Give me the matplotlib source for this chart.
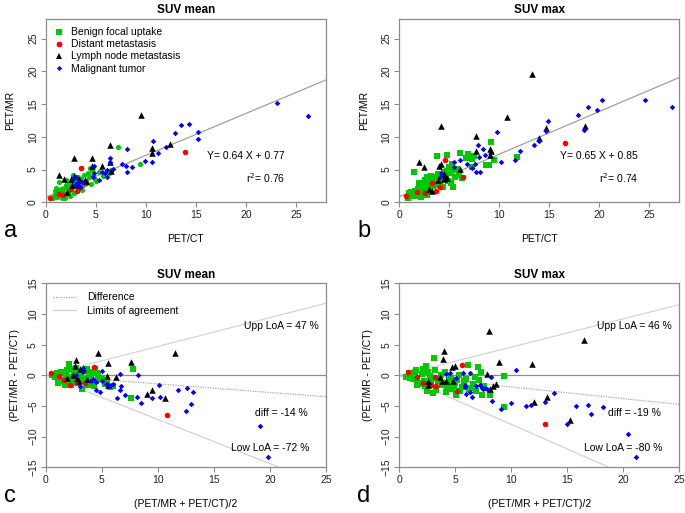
import matplotlib
matplotlib.use("Agg")
import matplotlib.pyplot as plt
from matplotlib.lines import Line2D

plt.rcParams["font.family"] = ["Liberation Sans", "DejaVu Sans"]

# ─── Renkler ─────────────────────────────────────────────────────────────────
GREEN = "#00c800"
RED = "#ff0000"
BLACK = "#000000"
BLUE = "#0000ff"
FRAME = "#8c8c8c"

# ─── Panel a: SUV mean, PET/CT (x) vs PET/MR (y) ─────────────────────────────
gx_a = [7.2, 9.4, 4.4, 4.6, 4.2, 4.9, 5.3, 5.7, 6.5, 6.3, 3.8, 3.5, 3.2, 2.9, 2.6, 2.3, 2.0, 1.8,
        1.5, 1.2, 1.0, 0.8, 0.7, 1.1, 1.4, 1.7, 2.0, 2.3, 2.6, 3.0, 3.4, 3.7, 4.0, 4.3, 4.7, 5.0,
        2.8, 2.4, 1.9, 3.2, 3.6, 2.2, 1.6, 1.3, 2.0, 2.7, 3.0, 4.5, 1.0, 0.9]
gy_a = [8.4, 5.8, 5.3, 4.9, 4.4, 3.6, 4.6, 4.0, 4.9, 4.4, 4.1, 3.6, 3.9, 3.5, 3.2, 2.8, 2.6, 2.2,
        2.0, 1.7, 1.4, 1.0, 0.6, 0.8, 1.2, 1.5, 1.2, 1.8, 2.3, 2.7, 3.0, 2.6, 3.2, 3.8, 4.2, 3.2,
        1.4, 0.9, 0.7, 2.2, 1.9, 2.2, 0.6, 3.1, 3.4, 4.2, 3.1, 2.8, 2.2, 1.8]
rx_a = [13.9, 3.5, 0.4, 1.3, 1.75, 2.5, 3.1, 4.0, 3.4]
ry_a = [7.7, 5.2, 0.7, 1.2, 1.1, 2.0, 1.8, 3.0, 2.4]
kx_a = [9.5, 6.4, 10.6, 10.6, 12.4, 2.8, 4.6, 4.6, 5.6, 6.4, 6.5, 1.3, 1.8, 2.5, 2.8, 3.9, 2.6,
        3.2, 2.1, 3.3, 4.0]
ky_a = [13.4, 8.7, 8.3, 7.5, 8.9, 6.7, 6.7, 5.5, 5.5, 6.2, 4.8, 4.2, 3.5, 3.6, 4.0, 3.4, 2.7,
        2.7, 1.6, 3.5, 3.3]
bx_a = [23.1, 26.2, 13.5, 14.3, 12.9, 15.2, 15.2, 10.7, 12.0, 11.2, 8.1, 9.9, 10.6, 7.6, 8.0,
        8.6, 8.1, 6.4, 6.4, 6.7, 6.1, 6.1, 5.6, 5.9, 5.3, 4.8, 4.7, 4.8, 3.3, 3.1, 2.9, 3.6, 3.4,
        2.7, 3.0]
by_a = [15.1, 13.2, 11.8, 11.9, 10.6, 10.7, 9.6, 9.3, 8.5, 7.6, 8.2, 6.3, 6.2, 5.8, 5.5, 5.4,
        4.6, 6.7, 6.1, 5.1, 4.9, 3.8, 4.7, 4.5, 3.4, 5.5, 3.9, 4.5, 3.1, 2.9, 2.6, 3.1, 2.4, 3.5,
        3.8]

# ─── Panel b: SUV max ────────────────────────────────────────────────────────
gx_b = [9.2, 11.8, 8.7, 9.0, 9.5, 6.9, 7.5, 6.1, 6.7, 7.3, 4.8, 3.8, 5.3, 5.0, 5.8, 7.3, 1.5,
        2.8, 0.9, 1.1, 1.3, 1.6, 1.9, 2.1, 2.3, 2.5, 2.7, 2.9, 3.1, 3.3, 3.5, 3.7, 3.9, 4.1, 4.3,
        4.5, 4.7, 4.9, 5.1, 5.3, 5.6, 6.0, 6.3, 1.2, 1.7, 2.0, 2.4, 2.6, 3.0, 3.4, 3.6, 4.0, 4.4,
        4.8, 5.2, 1.0, 2.2, 2.8, 3.2, 5.4]
gy_b = [9.2, 6.9, 5.7, 5.7, 6.5, 7.4, 7.1, 7.6, 6.7, 6.6, 7.2, 7.0, 5.9, 5.4, 5.1, 5.4, 4.6,
        3.9, 0.7, 1.2, 1.0, 1.8, 2.1, 1.5, 2.6, 2.2, 3.0, 2.4, 3.5, 2.8, 3.2, 3.9, 4.3, 3.1, 3.6,
        4.6, 4.1, 3.3, 4.4, 5.0, 3.8, 4.2, 3.7, 1.6, 0.9, 2.9, 1.3, 3.4, 1.9, 2.5, 3.6, 2.7, 2.4,
        4.8, 3.0, 1.4, 0.8, 1.1, 4.0, 2.4]
rx_b = [16.6, 4.6, 6.4, 0.65, 1.8, 2.6, 3.3, 3.7, 4.1]
ry_b = [9.0, 6.5, 3.9, 1.0, 1.5, 1.4, 3.0, 1.7, 2.3]
kx_b = [13.3, 4.2, 10.8, 7.7, 14.7, 14.0, 18.6, 9.1, 9.1, 7.7, 9.2, 2.0, 2.5, 4.0, 4.2, 6.1,
        4.5, 4.8, 4.5, 4.6, 3.9, 3.0, 3.3]
ky_b = [19.6, 11.7, 13.0, 10.1, 11.3, 9.8, 11.7, 8.1, 7.3, 7.9, 7.9, 6.1, 5.4, 5.6, 5.9, 5.1,
        4.3, 3.7, 3.5, 3.9, 3.4, 2.1, 1.8]
bx_b = [24.6, 27.3, 20.3, 19.8, 18.9, 17.9, 14.9, 9.8, 14.7, 18.5, 14.0, 13.5, 12.1, 11.6,
        10.2, 7.9, 8.4, 8.6, 8.0, 7.6, 7.7, 8.1, 6.8, 6.1, 5.5, 5.5, 4.2, 4.1, 7.3, 14.0]
by_b = [15.7, 14.5, 15.7, 14.1, 14.5, 13.3, 12.4, 10.8, 10.9, 11.0, 9.3, 8.8, 7.9, 6.4, 6.2,
        8.7, 8.2, 7.2, 6.9, 5.9, 4.6, 4.6, 5.9, 6.4, 6.2, 5.4, 4.4, 3.9, 5.3, 9.5]

# ─── Panel c: Bland-Altman SUV mean ──────────────────────────────────────────
gx_c = [7.8, 7.6, 5.7, 3.2, 2.1, 4.4, 4.7, 0.8, 1.0, 1.2, 1.4, 1.6, 1.8, 2.0, 2.2, 2.4, 2.6,
        2.8, 3.0, 3.4, 3.6, 3.8, 4.0, 4.2, 4.5, 5.0, 5.3, 1.1, 1.5, 1.9, 2.3, 2.7, 3.1, 3.5, 3.9,
        4.3, 4.8, 5.5, 0.6, 1.3, 1.7, 2.5, 2.9, 3.3, 4.1, 4.6, 6.0, 2.0, 3.7, 1.0]
gy_c = [1.1, -3.7, -1.9, -2.3, 1.8, 1.0, 0.0, -0.2, 0.4, -0.5, 0.6, -1.0, 0.2, -0.3, 1.0, -0.8,
        0.5, -1.3, 0.3, -0.6, 0.8, -1.6, -0.2, 0.5, -1.0, -0.4, -1.4, -1.2, -0.7, 0.9, -1.5, 1.2,
        -0.1, -1.0, 0.0, -1.8, -0.6, -1.2, 0.1, 0.3, -1.6, 0.0, -0.3, 0.7, -0.9, 0.4, -1.8, -1.1,
        1.0, 0.0]
rx_c = [0.5, 4.3, 10.8, 1.2, 2.2, 3.5, 2.8, 1.6]
ry_c = [0.3, 1.4, -6.4, -0.1, -1.6, -1.2, -1.1, -0.8]
kx_c = [11.5, 4.7, 2.7, 2.6, 3.1, 3.3, 5.6, 7.6, 6.3, 5.5, 2.4, 1.9, 2.8, 3.0, 3.7, 5.6, 9.0,
        9.5, 10.6]
ky_c = [3.7, 3.6, 2.5, 1.5, 1.1, 1.2, 2.0, 2.2, -0.2, -0.1, 0.1, -0.4, -0.5, -0.9, -0.6, -1.6,
        -3.1, -2.4, -3.7]
bx_c = [19.8, 19.1, 13.1, 12.6, 11.8, 13.0, 12.5, 10.1, 10.2, 9.5, 8.5, 8.1, 8.2, 6.6, 7.1,
        6.7, 6.4, 6.6, 6.0, 5.7, 5.4, 4.8, 5.0, 5.0, 4.5, 4.5, 4.2, 3.3, 3.3, 2.7, 3.1, 4.0]
by_c = [-13.3, -8.3, -2.7, -2.1, -2.4, -4.7, -5.8, -1.5, -3.6, -3.7, -4.5, -3.6, 0.1, 0.2, -3.2,
        -1.7, -3.7, -2.4, -1.4, -1.7, -1.4, -2.7, -1.0, 0.65, -1.1, -2.4, -0.6, 1.2, 0.5, 0.1,
        -1.7, -0.9]

# ─── Panel d: Bland-Altman SUV max ───────────────────────────────────────────
gx_d = [3.1, 2.4, 6.1, 7.0, 9.4, 9.4, 7.4, 8.1, 5.1, 7.3, 2.5, 0.6, 0.9, 1.2, 1.5, 1.8, 2.0,
        2.3, 2.6, 2.9, 3.2, 3.5, 3.8, 4.1, 4.4, 4.7, 5.0, 5.3, 5.6, 6.0, 6.4, 6.8, 1.0, 1.4, 1.7,
        2.1, 2.8, 3.3, 3.7, 4.0, 4.3, 4.6, 4.9, 5.4, 5.8, 6.2, 6.6, 7.1, 2.2, 3.6, 4.5, 5.2, 3.0,
        1.6, 2.7, 4.2, 7.6, 6.9]
gy_d = [2.9, 1.5, 1.7, 1.35, -0.1, -5.1, -3.2, -3.2, -3.2, 0.55, -2.5, -0.2, 0.3, -0.6, 0.8,
        -1.2, 0.2, -1.8, 0.6, -0.4, 0.9, -1.0, -1.6, 0.5, -0.8, -2.2, -1.3, 0.1, -1.9, -0.6, -2.0,
        -0.2, -0.5, 0.5, -1.4, 1.0, -1.1, -2.4, 0.0, -1.2, -2.0, -0.5, -1.7, -2.6, -1.0, -2.3,
        -1.4, -0.8, -0.9, -0.6, -1.5, -0.7, -2.9, -1.6, -0.1, -2.7, -1.8, -2.6]
rx_d = [0.8, 1.6, 2.1, 2.8, 3.2, 3.3, 5.6, 5.2, 13.0]
ry_d = [0.5, -0.3, -1.2, -1.5, -0.3, -1.8, 1.7, -2.6, -8.0]
kx_d = [8.0, 16.5, 8.9, 11.9, 4.0, 3.9, 5.0, 4.7, 7.8, 12.0, 13.2, 15.3, 8.6, 8.4, 8.1, 4.8,
        4.2, 2.6, 2.6, 3.6, 3.8]
ky_d = [7.2, 5.8, 2.2, 1.9, 4.0, 2.7, 1.5, 1.4, 0.2, -4.4, -3.6, -7.3, -1.35, -1.7, -2.3, -0.9,
        -1.0, -1.0, -1.5, -0.3, -1.0]
bx_d = [10.4, 8.2, 7.5, 7.8, 13.8, 13.0, 8.3, 10.0, 9.1, 11.3, 11.8, 15.8, 16.9, 18.2, 17.1,
        15.0, 20.4, 21.2, 5.7, 6.3, 4.2, 4.5, 5.1, 5.9, 5.9, 6.3, 6.5, 6.0, 6.9, 7.4, 7.7, 7.2]
by_d = [0.8, -0.3, -2.2, -2.2, -2.9, -4.3, -4.2, -4.5, -5.5, -5.0, -4.9, -5.0, -4.8, -5.1, -6.3,
        -7.9, -9.5, -13.3, 0.4, 0.3, 0.2, 0.3, -0.4, -1.5, -1.9, -2.7, -3.5, -3.0, -1.8, -2.0,
        -2.0, -1.6]

# Regresyon ve Bland-Altman parametreleri
REG_A = (0.64, 0.77, 0.76)
REG_B = (0.65, 0.85, 0.74)
BA_C = (47, -14, -72)
BA_D = (46, -19, -80)

W, H = 685, 513
fig = plt.figure(figsize=(W / 100, H / 100), dpi=100)


def px_axes(left, top, right, bottom):
    return fig.add_axes([left / W, 1 - bottom / H, (right - left) / W, (bottom - top) / H])


def style(ax):
    for sp in ax.spines.values():
        sp.set_color(FRAME)
        sp.set_linewidth(0.9)
    ax.tick_params(direction="out", length=3.5, width=0.8, color=FRAME,
                   labelsize=7.5, labelcolor="#222222", pad=2)
    for lab in ax.get_yticklabels():
        lab.set_rotation(90)
        lab.set_va("center")


def scatter_groups(ax, g, r, k, b, green_marker="s"):
    ax.scatter(g[0], g[1], s=14, marker=green_marker, color=GREEN, linewidths=0, zorder=3)
    ax.scatter(r[0], r[1], s=16, marker="o", color=RED, linewidths=0, zorder=4)
    ax.scatter(k[0], k[1], s=22, marker="^", color=BLACK, linewidths=0, zorder=4)
    ax.scatter(b[0], b[1], s=8, marker="D", color=BLUE, linewidths=0, zorder=5)


def panel_letter(ax, letter):
    ax.text(-0.15, -0.157, letter, transform=ax.transAxes, fontsize=17,
            ha="left", va="center")


def reg_panel(ax, g, r, k, b, reg, title, letter, green_marker):
    slope, icpt, r2 = reg
    scatter_groups(ax, g, r, k, b, green_marker)
    ax.plot([0, 28], [icpt, slope * 28 + icpt], color="#a0a0a0", lw=0.9, zorder=2)
    ax.set_xlim(0, 28)
    ax.set_ylim(0, 28)
    ax.set_xticks([0, 5, 10, 15, 20, 25])
    ax.set_yticks([0, 5, 10, 15, 20, 25])
    style(ax)
    ax.set_title(title, fontsize=8.5, fontweight="bold", pad=4)
    ax.set_xlabel("PET/CT", fontsize=7.5, labelpad=10)
    ax.set_ylabel("PET/MR", fontsize=7.5, labelpad=9)
    ax.text(20.0, 7.1, f"Y= {slope:.2f} X + {icpt:.2f}", fontsize=7.5, ha="center", va="center")
    ax.text(22.0, 3.65, f"r$^2$= {r2:.2f}", fontsize=7.5, ha="center", va="center")
    panel_letter(ax, letter)


def ba_panel(ax, g, r, k, b, ba, title, letter, legend=False):
    upp, diff, low = ba
    scatter_groups(ax, g, r, k, b)
    ax.axhline(0, color="#8c8c8c", lw=0.9, zorder=2)
    ax.plot([0, 25], [0, diff / 100 * 25], color="#a8a8a8", lw=0.9, ls=(0, (1, 1)), zorder=2)
    ax.plot([0, 25], [0, upp / 100 * 25], color="#d4d4d4", lw=0.9, zorder=2)
    ax.plot([0, 25], [0, low / 100 * 25], color="#d0d0e0", lw=0.9, zorder=2)
    ax.set_xlim(0, 25)
    ax.set_ylim(-15, 15)
    ax.set_xticks([0, 5, 10, 15, 20, 25])
    ax.set_yticks([-15, -10, -5, 0, 5, 10, 15])
    style(ax)
    ax.set_title(title, fontsize=8.5, fontweight="bold", pad=4)
    ax.set_xlabel("(PET/MR + PET/CT)/2", fontsize=7.5, labelpad=10)
    ax.set_ylabel("(PET/MR - PET/CT)", fontsize=7.5, labelpad=6)
    ax.text(21.0, 8.0, f"Upp LoA = {upp} %", fontsize=7.5, ha="center", va="center")
    ax.text(21.0, -6.1, f"diff = {diff} %", fontsize=7.5, ha="center", va="center")
    ax.text(20.0, -11.9, f"Low LoA = {low} %", fontsize=7.5, ha="center", va="center")
    panel_letter(ax, letter)
    if legend:
        handles = [Line2D([], [], color="#a0a0a0", lw=0.9, ls=(0, (1, 1))),
                   Line2D([], [], color="#d0d0d0", lw=0.9)]
        ax.legend(handles, ["Difference", "Limits of agreement"], loc="upper left",
                  frameon=False, fontsize=7.5, handlelength=2.2, handletextpad=1.1,
                  labelspacing=0.3, borderaxespad=0.3, bbox_to_anchor=(0.0, 0.99))


ax_a = px_axes(45.7, 19, 326, 202.3)
ax_b = px_axes(399.3, 19, 679, 202.3)
ax_c = px_axes(45.7, 283.3, 326, 467.3)
ax_d = px_axes(399.3, 283.3, 679, 467.3)

reg_panel(ax_a, (gx_a, gy_a), (rx_a, ry_a), (kx_a, ky_a), (bx_a, by_a), REG_A,
          "SUV mean", "a", "o")
reg_panel(ax_b, (gx_b, gy_b), (rx_b, ry_b), (kx_b, ky_b), (bx_b, by_b), REG_B,
          "SUV max", "b", "s")
ba_panel(ax_c, (gx_c, gy_c), (rx_c, ry_c), (kx_c, ky_c), (bx_c, by_c), BA_C,
         "SUV mean", "c", legend=True)
ba_panel(ax_d, (gx_d, gy_d), (rx_d, ry_d), (kx_d, ky_d), (bx_d, by_d), BA_D,
         "SUV max", "d")

leg_handles = [
    Line2D([], [], ls="", marker="s", ms=4, color=GREEN, mew=0),
    Line2D([], [], ls="", marker="o", ms=4.2, color=RED, mew=0),
    Line2D([], [], ls="", marker="^", ms=4.8, color=BLACK, mew=0),
    Line2D([], [], ls="", marker="D", ms=2.6, color=BLUE, mew=0),
]
ax_a.legend(leg_handles, ["Benign focal uptake", "Distant metastasis",
                          "Lymph node metastasis", "Malignant tumor"],
            loc="upper left", frameon=False, fontsize=7.5, handlelength=1.0,
            handletextpad=0.6, labelspacing=0.2, borderaxespad=0.4)

fig.savefig("out.png", dpi=100)
